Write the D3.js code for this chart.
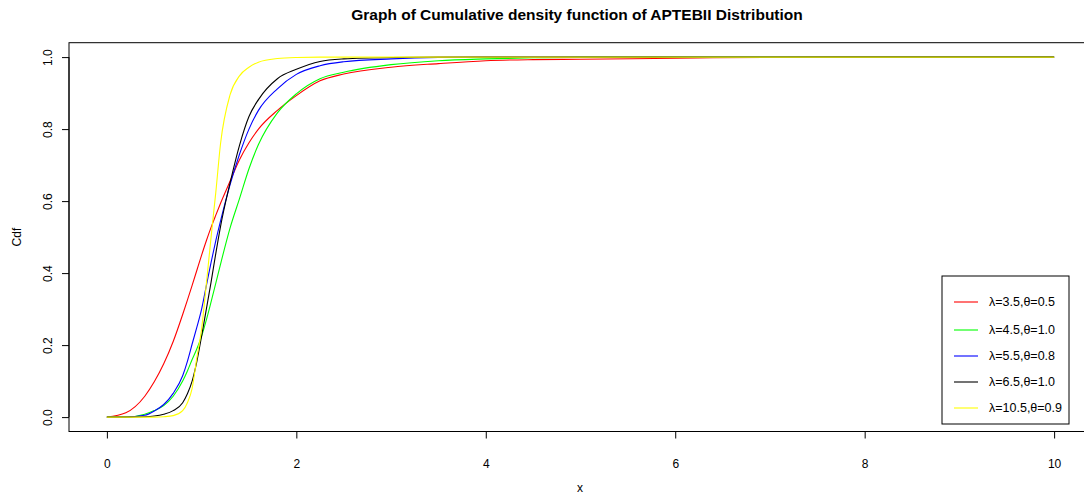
<!DOCTYPE html>
<html>
<head>
<meta charset="utf-8">
<script src="https://cdn.jsdelivr.net/npm/d3@7"></script>
<style>
  body { margin: 0; background: #fff; }
  svg { font-family: "Liberation Sans", Arial, sans-serif; }
</style>
</head>
<body>
<div id="chart"></div>
<script>
/* DATA */
const xs = [0, 0.2, 0.4, 0.5, 0.6, 0.7, 0.8, 0.85, 0.9, 0.95, 1.0, 1.05, 1.1, 1.15, 1.2, 1.3, 1.4, 1.5, 1.6, 1.8, 2.0, 2.25, 2.5, 3.0, 3.5, 4.0, 4.5, 5.0, 6.0, 6.4, 8.0, 10];

const red = [0, 0.012, 0.058, 0.098, 0.148, 0.21, 0.285, 0.325, 0.366, 0.408, 0.45, 0.49, 0.527, 0.561, 0.594, 0.655, 0.715, 0.762, 0.80, 0.852, 0.893, 0.934, 0.953, 0.972, 0.982, 0.99, 0.993, 0.994, 0.997, 0.998, 1, 1];
const green = [0, 0, 0.008, 0.018, 0.032, 0.058, 0.10, 0.128, 0.16, 0.19, 0.225, 0.27, 0.32, 0.372, 0.425, 0.525, 0.607, 0.69, 0.757, 0.845, 0.898, 0.94, 0.958, 0.979, 0.99, 0.995, 0.998, 1, 1, 1, 1, 1];
const blue = [0, 0, 0.005, 0.017, 0.035, 0.066, 0.115, 0.155, 0.203, 0.25, 0.30, 0.365, 0.43, 0.49, 0.545, 0.645, 0.73, 0.80, 0.852, 0.912, 0.952, 0.976, 0.987, 0.995, 0.999, 1, 1, 1, 1, 1, 1, 1];
const black = [0, 0, 0.001, 0.003, 0.008, 0.018, 0.04, 0.065, 0.10, 0.155, 0.225, 0.30, 0.375, 0.455, 0.53, 0.65, 0.755, 0.835, 0.882, 0.94, 0.966, 0.988, 0.995, 0.999, 1, 1, 1, 1, 1, 1, 1, 1];
const yellow = [0, 0, 0, 0, 0.001, 0.004, 0.018, 0.04, 0.08, 0.165, 0.245, 0.37, 0.50, 0.625, 0.76, 0.895, 0.948, 0.972, 0.986, 0.996, 0.999, 1, 1, 1, 1, 1, 1, 1, 1, 1, 1, 1];

const labels = ["λ=3.5,θ=0.5", "λ=4.5,θ=1.0", "λ=5.5,θ=0.8", "λ=6.5,θ=1.0", "λ=10.5,θ=0.9"];
const colors = ["#ff0000", "#00ff00", "#0000ff", "#000000", "#ffff00"];
const xTicks = [0, 2, 4, 6, 8, 10];
const yTicks = [0, 0.2, 0.4, 0.6, 0.8, 1.0];

const width = 1084, height = 497;
const box = { left: 69, right: 1092, top: 42.7, bottom: 431.5 };

const series = [red, green, blue, black, yellow].map((ys, i) => ({
  label: labels[i],
  color: colors[i],
  values: xs.map((x, j) => ({ x: x, y: ys[j] }))
}));

// scales, R style 4% padding
const xScale = d3.scaleLinear().domain([-0.4, 10.4]).range([box.left, box.right]);
const yScale = d3.scaleLinear().domain([-0.04, 1.04]).range([box.bottom, box.top]);

const svg = d3.select("#chart").append("svg")
  .attr("width", width)
  .attr("height", height);

// plot box
svg.append("rect")
  .attr("x", box.left).attr("y", box.top)
  .attr("width", box.right - box.left).attr("height", box.bottom - box.top)
  .attr("fill", "none").attr("stroke", "#000").attr("stroke-width", 1);

// axes
const xAxis = d3.axisBottom(xScale).tickValues(xTicks).tickSize(7).tickPadding(21).tickFormat(d3.format("d"));
const yAxis = d3.axisLeft(yScale).tickValues(yTicks).tickSize(7).tickPadding(0).tickFormat(d3.format(".1f"));

const gx = svg.append("g")
  .attr("transform", `translate(0, ${box.bottom})`)
  .call(xAxis);
gx.select(".domain").attr("d", `M${xScale(0)},0H${xScale(10)}`);
gx.selectAll("text").attr("font-size", 12).attr("font-family", "Liberation Sans, Arial, sans-serif").attr("fill", "#000");

const gy = svg.append("g")
  .attr("transform", `translate(${box.left}, 0)`)
  .call(yAxis);
gy.select(".domain").attr("d", `M0,${yScale(0)}V${yScale(1)}`);
gy.selectAll("text")
  .attr("font-size", 12)
  .attr("font-family", "Liberation Sans, Arial, sans-serif")
  .attr("fill", "#000")
  .attr("text-anchor", "middle")
  .attr("dy", null)
  .attr("x", null)
  .attr("transform", "translate(-17,0) rotate(-90)");

// curves
const line = d3.line()
  .x(d => xScale(d.x))
  .y(d => yScale(d.y))
  .curve(d3.curveMonotoneX);

svg.append("g")
  .selectAll("path")
  .data(series)
  .join("path")
  .attr("d", d => line(d.values))
  .attr("fill", "none")
  .attr("stroke", d => d.color)
  .attr("stroke-width", 1.1);

// title and axis labels
svg.append("text")
  .attr("x", 577).attr("y", 20)
  .attr("text-anchor", "middle")
  .attr("font-weight", "bold")
  .attr("font-size", 15.5)
  .text("Graph of Cumulative density function of APTEBII Distribution");

svg.append("text")
  .attr("x", 580).attr("y", 492)
  .attr("text-anchor", "middle")
  .attr("font-size", 12)
  .text("x");

svg.append("text")
  .attr("transform", `translate(21, ${(box.top + box.bottom) / 2}) rotate(-90)`)
  .attr("text-anchor", "middle")
  .attr("font-size", 12)
  .text("Cdf");

// legend
const legend = svg.append("g");
legend.append("rect")
  .attr("x", 942).attr("y", 276)
  .attr("width", 127).attr("height", 148)
  .attr("fill", "#fff").attr("stroke", "#000");

const rowY = [302, 330, 356, 382, 408];
const item = legend.selectAll("g.item")
  .data(series)
  .join("g")
  .attr("class", "item")
  .attr("transform", (d, i) => `translate(0, ${rowY[i]})`);

item.append("line")
  .attr("x1", 954).attr("x2", 978)
  .attr("stroke", d => d.color)
  .attr("stroke-width", 1.1);

item.append("text")
  .attr("x", 989).attr("y", 0)
  .attr("dy", "0.35em")
  .attr("font-size", 12.5)
  .text(d => d.label);
</script>
</body>
</html>
